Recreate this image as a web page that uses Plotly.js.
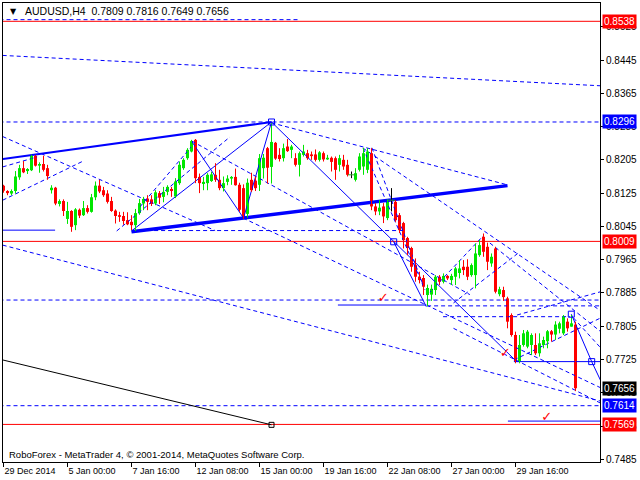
<!DOCTYPE html>
<html><head><meta charset="utf-8">
<script src="https://cdn.plot.ly/plotly-3.0.1.min.js"></script>
<style>body{margin:0;background:#fff}#chart{width:640px;height:480px}</style>
</head><body><div id="chart"></div>
<script>
// ---- candle data (AUDUSD H4) ----
const opens = [.8143,.8130,.8124,.8130,.8163,.8185,.8178,.8180,.8215,.8191,.8195,.8185,.8132,.8138,.8099,.8106,.8063,.8082,.8048,.8085,
.8072,.8089,.8080,.8115,.8143,.8132,.8124,.8106,.8083,.8072,.8070,.8060,.8056,.8048,.8077,.8100,.8112,.8110,.8100,.8125,
.8116,.8128,.8135,.8117,.8149,.8185,.8209,.8225,.8253,.8164,.8147,.8149,.8154,.8169,.8157,.8137,.8152,.8160,.8164,.8145,
.8137,.8075,.8157,.8155,.8145,.8185,.8233,.8188,.8246,.8217,.8209,.8237,.8229,.8209,.8193,.8217,.8221,.8218,.8218,.8205,
.8221,.8206,.8210,.8209,.8193,.8205,.8193,.8169,.8157,.8181,.8189,.8181,.8221,.8093,.8081,.8093,.8065,.8108,.8104,.8072,
.8053,.8017,.7993,.7952,.7924,.7921,.7880,.7881,.7892,.7924,.7912,.7926,.7916,.7924,.7933,.7948,.7948,.7928,.7928,.7976,
.8020,.7996,.7956,.7992,.7882,.7892,.7872,.7832,.7784,.7720,.7760,.7756,.7760,.7760,.7740,.7760,.7769,.7793,.7785,.7799,
.7788,.7816,.7804,.7809];
const highs = [.8145,.8132,.8134,.8178,.8193,.8202,.8185,.8217,.8217,.8199,.8215,.8193,.8144,.8140,.8110,.8110,.8104,.8084,.8089,.8088,
.8106,.8096,.8123,.8153,.8157,.8140,.8132,.8116,.8086,.8080,.8080,.8079,.8072,.8087,.8111,.8116,.8120,.8120,.8132,.8130,
.8140,.8144,.8140,.8161,.8201,.8209,.8233,.8253,.8255,.8172,.8164,.8173,.8176,.8197,.8181,.8165,.8168,.8166,.8184,.8150,
.8146,.8160,.8174,.8165,.8219,.8219,.8236,.8293,.8248,.8233,.8244,.8255,.8241,.8221,.8225,.8241,.8229,.8225,.8230,.8226,
.8225,.8217,.8213,.8213,.8217,.8217,.8205,.8177,.8185,.8221,.8234,.8233,.8233,.8101,.8108,.8101,.8110,.8137,.8108,.8077,
.8056,.8020,.7996,.7968,.7936,.7928,.7905,.7905,.7928,.7928,.7932,.7928,.7931,.7948,.7964,.7964,.7966,.7956,.8004,.8012,
.8028,.8006,.7980,.7996,.7900,.7900,.7876,.7836,.7792,.7784,.7796,.7796,.7788,.7788,.7788,.7780,.7796,.7796,.7817,.7816,
.7832,.7824,.7832,.7816];
const lows = [.8126,.8120,.8120,.8124,.8157,.8173,.8171,.8178,.8189,.8174,.8177,.8157,.8124,.8096,.8093,.8070,.8051,.8032,.8036,.8065,
.8070,.8076,.8078,.8108,.8125,.8116,.8100,.8080,.8052,.8056,.8049,.8048,.8036,.8034,.8073,.8084,.8084,.8094,.8096,.8099,
.8103,.8120,.8116,.8113,.8145,.8181,.8205,.8223,.8149,.8125,.8132,.8132,.8152,.8152,.8132,.8129,.8144,.8145,.8143,.8080,
.8063,.8066,.8128,.8130,.8130,.8160,.8148,.8148,.8205,.8201,.8201,.8224,.8209,.8189,.8165,.8213,.8205,.8205,.8201,.8201,
.8201,.8205,.8177,.8157,.8177,.8181,.8165,.8161,.8153,.8177,.8169,.8173,.8084,.8072,.8072,.8053,.8060,.8081,.8056,.8029,
.7992,.7976,.7936,.7912,.7908,.7880,.7853,.7866,.7880,.7904,.7908,.7916,.7904,.7904,.7920,.7928,.7916,.7924,.7896,.7972,
.7972,.7940,.7948,.7884,.7877,.7866,.7800,.7780,.7716,.7716,.7756,.7752,.7736,.7736,.7732,.7752,.7752,.7768,.7772,.7788,
.7784,.7792,.7804,.7649];
const closes = [.8131,.8125,.8130,.8165,.8185,.8175,.8183,.8215,.8191,.8195,.8181,.8166,.8138,.8100,.8106,.8082,.8082,.8044,.8086,.8071,
.8089,.8080,.8115,.8143,.8129,.8120,.8104,.8082,.8070,.8068,.8058,.8050,.8048,.8077,.8101,.8111,.8104,.8099,.8127,.8114,
.8128,.8140,.8130,.8153,.8193,.8205,.8229,.8250,.8161,.8149,.8152,.8169,.8170,.8157,.8137,.8149,.8160,.8164,.8144,.8085,
.8068,.8150,.8132,.8137,.8209,.8210,.8186,.8248,.8208,.8207,.8233,.8226,.8237,.8193,.8221,.8225,.8209,.8214,.8205,.8223,
.8206,.8210,.8200,.8181,.8209,.8189,.8169,.8169,.8173,.8213,.8221,.8225,.8093,.8081,.8090,.8069,.8106,.8108,.8060,.8036,
.8012,.7993,.7948,.7924,.7916,.7900,.7897,.7895,.7924,.7912,.7926,.7920,.7926,.7944,.7944,.7940,.7924,.7952,.7980,.8000,
.7984,.7960,.7972,.7888,.7894,.7875,.7816,.7784,.7720,.7760,.7788,.7792,.7784,.7740,.7764,.7772,.7793,.7785,.7809,.7812,
.7828,.7800,.7812,.7656];

const symbolName = 'AUDUSD,H4';
const tickBars = [0,16,32,48,64,80,96,112,128];
const tickLabels = ['29 Dec 2014','5 Jan 00:00','7 Jan 16:00','12 Jan 08:00','15 Jan 00:00','19 Jan 16:00','22 Jan 08:00','27 Jan 00:00','29 Jan 16:00'];
const priceTicks = [0.8525,0.8445,0.8365,0.8285,0.8205,0.8125,0.8045,0.7965,0.7885,0.7805,0.7725,0.7645,0.7565,0.7485];

// ---- analysis objects: [bar, price] points ----
const redLevels = [0.8538, 0.8009, 0.7569];
const blueDashLevels = [0.8296, 0.7868, 0.7614];
const dashSegments = [
  [[-1,0.8542],[74.1,0.8542]],
  [[32.4,0.8035],[99.9,0.8035]],
  [[105.9,0.7854],[151,0.7854]],
  [[109.9,0.7828],[141.6,0.7828]],
  [[-0.2,0.8456],[149.3,0.8383]],
  [[-0.2,0.8261],[52.9,0.8035]],
  [[-0.2,0.8108],[19.9,0.8202]],
  [[-0.2,0.8188],[8.4,0.8212]],
  [[-0.2,0.8000],[149.3,0.7625]],
  [[67,0.8294],[125.9,0.8145]],
  [[28.3,0.8034],[56.6,0.8260]],
  [[34.1,0.8092],[47.1,0.8238]],
  [[89.9,0.8233],[149.3,0.7842]],
  [[89.9,0.8233],[105.4,0.7892]],
  [[92.1,0.8234],[105.1,0.7899]],
  [[106.6,0.7887],[119.9,0.8022]],
  [[112.5,0.7861],[129.1,0.7984]],
  [[121.6,0.8005],[149.3,0.7792]],
  [[127.6,0.7724],[149.3,0.7825]],
  [[128.4,0.7832],[149.3,0.7888]],
  [[142.5,0.7825],[149.3,0.7753]],
  [[59.9,0.8065],[149.3,0.7657]],
  [[47.1,0.8250],[116.6,0.7881]],
  [[112.5,0.7800],[149.3,0.7620]]
];
const thinSolid = [
  [[-1,0.8036],[12.9,0.8036]],
  [[83.6,0.7856],[105.6,0.7856]],
  [[127.6,0.7720],[151,0.7720]],
  [[126.1,0.7577],[151,0.7577]],
  [[32,0.8034],[67,0.8296]],
  [[47,0.8250],[60,0.8065],[67,0.8296]],
  [[67,0.8296],[128.4,0.7719]],
  [[97.55,0.8008],[105.7,0.7852]],
  [[141.95,0.7834],[147.05,0.7720],[149.5,0.7670]]
];
const mediumSolid = [[[-0.2,0.8207],[67,0.8296]]];
const thickSolid = [[[32,0.8032],[126,0.8143]]];
const blackSolid = [[[-0.2,0.7724],[67,0.7568]]];
const blueSquares = [[67,0.8296],[97.55,0.8008],[141.95,0.7834],[147.05,0.7720]];
const blackSquares = [[67,0.7568]];
const checkMarks = [[94.9,0.7872],[125.4,0.7738],[135.8,0.7586]];
const tags = [[0.8538,'#ff0000'],[0.8296,'#0000ff'],[0.8009,'#ff0000'],[closes[closes.length-1],'#000000'],[0.7614,'#0000ff'],[0.7569,'#ff0000']];

// ---- build traces ----
const GREEN = '#00e600', RED = '#ff0000', BLUE = '#0000ff';
const traces = [];
function segTrace(list, color, width, dash){
  const xs=[], ys=[];
  list.forEach(seg=>{ seg.forEach(p=>{xs.push(p[0]); ys.push(p[1]);}); xs.push(null); ys.push(null); });
  return {type:'scatter', mode:'lines', x:xs, y:ys, line:{color:color, width:width, dash:dash||'solid'}, hoverinfo:'skip'};
}
traces.push(segTrace(redLevels.map(v=>[[-1,v],[151,v]]), RED, 1));
traces.push(segTrace(blueDashLevels.map(v=>[[-1,v],[151,v]]), BLUE, 1, '4px,3px'));
traces.push(segTrace(dashSegments, BLUE, 1, '4px,3px'));
traces.push(segTrace(blackSolid, '#000000', 1));
traces.push(segTrace(thinSolid, BLUE, 1));
traces.push(segTrace(mediumSolid, BLUE, 2));
traces.push(segTrace(thickSolid, BLUE, 3.5));

// candles
const up={x:[],base:[],y:[]}, dn={x:[],base:[],y:[]};
const wu={x:[],y:[]}, wd={x:[],y:[]}, wz={x:[],y:[]}, dz={x:[],y:[]};
const MINH = 0.00024;
opens.forEach((o,i)=>{
  const c=closes[i], h=highs[i], l=lows[i];
  if (c>o){ up.x.push(i); up.base.push(o); up.y.push(Math.max(c-o,MINH)); wu.x.push(i,i,null); wu.y.push(l,h,null); }
  else if (c<o){ dn.x.push(i); dn.base.push(c); dn.y.push(Math.max(o-c,MINH)); wd.x.push(i,i,null); wd.y.push(l,h,null); }
  else { wz.x.push(i,i,null); wz.y.push(l,h,null); dz.x.push(i); dz.y.push(c); }
});
traces.push({type:'scatter',mode:'lines',x:wu.x,y:wu.y,line:{color:GREEN,width:1},hoverinfo:'skip'});
traces.push({type:'scatter',mode:'lines',x:wd.x,y:wd.y,line:{color:RED,width:1},hoverinfo:'skip'});
traces.push({type:'scatter',mode:'lines',x:wz.x,y:wz.y,line:{color:'#000000',width:1},hoverinfo:'skip'});
traces.push({type:'bar',x:up.x,base:up.base,y:up.y,width:0.75,marker:{color:GREEN,line:{width:0}},hoverinfo:'skip'});
traces.push({type:'bar',x:dn.x,base:dn.base,y:dn.y,width:0.75,marker:{color:RED,line:{width:0}},hoverinfo:'skip'});
traces.push({type:'scatter',mode:'markers',x:dz.x,y:dz.y,marker:{symbol:'line-ew-open',size:5,line:{color:'#000000',width:1}},hoverinfo:'skip'});

// markers
traces.push({type:'scatter',mode:'markers',x:blueSquares.map(p=>p[0]),y:blueSquares.map(p=>p[1]),marker:{symbol:'square-open',size:6,line:{color:BLUE,width:1},color:BLUE},hoverinfo:'skip'});
traces.push({type:'scatter',mode:'markers',x:blackSquares.map(p=>p[0]),y:blackSquares.map(p=>p[1]),marker:{symbol:'square-open',size:5,line:{color:'#000',width:1},color:'#000'},hoverinfo:'skip'});
traces.push({type:'scatter',mode:'text',x:checkMarks.map(p=>p[0]),y:checkMarks.map(p=>p[1]),text:checkMarks.map(()=> '✓'),textfont:{color:RED,size:13,family:'DejaVu Sans'},hoverinfo:'skip'});

const FONT = 'Liberation Sans, Arial, sans-serif';
const last = opens.length-1;
const titleText = symbolName + '  ' + [opens[last],highs[last],lows[last],closes[last]].map(v=>v.toFixed(4)).join(' ');
const annotations = [
  {xref:'paper',yref:'paper',x:0.008,y:0.982,xanchor:'left',yanchor:'middle',showarrow:false,text:'▼',font:{family:'DejaVu Sans',size:8,color:'#000'}},
  {xref:'paper',yref:'paper',x:0.034,y:0.982,xanchor:'left',yanchor:'middle',showarrow:false,text:titleText,font:{family:FONT,size:10.5,color:'#000'}},
  {xref:'paper',yref:'paper',x:0.006,y:0.017,xanchor:'left',yanchor:'middle',showarrow:false,text:'RoboForex - MetaTrader 4, © 2001-2014, MetaQuotes Software Corp.',font:{family:FONT,size:9.5,color:'#000'}}
];
tags.forEach(t=>{
  annotations.push({xref:'paper',yref:'y',x:1,y:t[0],xanchor:'left',yanchor:'middle',xshift:2,showarrow:false,
    text:t[0].toFixed(4),bgcolor:t[1],borderpad:1,font:{family:FONT,size:10,color:'#fff'}});
});

const layout = {
  width:640, height:480, margin:{l:3,r:40,t:3,b:18},
  paper_bgcolor:'#fff', plot_bgcolor:'#fff', showlegend:false, barmode:'overlay',
  xaxis:{range:[-0.125,149.125], tickvals:tickBars, ticktext:tickLabels, ticks:'outside', ticklen:4, tickcolor:'#000',
    showgrid:false, zeroline:false, showline:true, mirror:true, linecolor:'#000', linewidth:1,
    ticklabelposition:'outside right', tickfont:{family:FONT,size:9,color:'#000'}},
  yaxis:{side:'right', range:[0.747867,0.858202], tickvals:priceTicks, tickformat:'.4f', ticks:'outside', ticklen:3, tickcolor:'#000',
    showgrid:false, zeroline:false, showline:true, mirror:true, linecolor:'#000', linewidth:1,
    tickfont:{family:FONT,size:10,color:'#000'}},
  annotations:annotations
};
Plotly.newPlot('chart', traces, layout, {staticPlot:true});
</script></body></html>
